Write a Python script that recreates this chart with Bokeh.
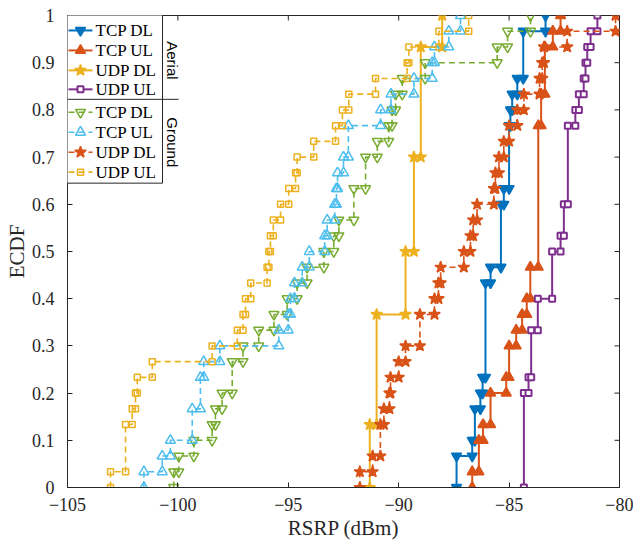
import math
from bokeh.plotting import figure
from bokeh.models import Range1d, FixedTicker
from bokeh.embed import file_html
from bokeh.resources import INLINE
from bokeh.core.properties import value

# ---------------- data (ECDF, n = 30 samples per series) ----------------
N_SAMPLES = 30
x_ticks = [-105, -100, -95, -90, -85, -80]
y_ticks = [0, 0.1, 0.2, 0.3, 0.4, 0.5, 0.6, 0.7, 0.8, 0.9, 1]
y_tick_labels = {0: "0", 1: "1"}

# Aerial
aer_tcp_dl_x = [-87.38, -86.67, -86.55, -86.3, -86.2, -86.07, -85.84, -85.37, -85.24, -85.0, -84.94, -84.86, -84.63, -84.36, -83.35]
aer_tcp_dl_n = [2, 3, 5, 6, 7, 13, 14, 18, 19, 23, 24, 25, 26, 29, 30]
aer_tcp_ul_x = [-86.67, -86.37, -86.18, -85.84, -85.13, -85.0, -84.68, -84.41, -84.2, -84.04, -83.68, -83.55, -83.38, -83.02, -82.67]
aer_tcp_ul_n = [1, 3, 4, 6, 7, 9, 10, 11, 12, 14, 23, 25, 28, 29, 30]
aer_udp_dl_x = [-91.31, -91.0, -89.69, -89.31, -89.0, -88.03]
aer_udp_dl_n = [4, 11, 15, 21, 28, 30]
aer_udp_ul_x = [-84.33, -84.12, -84.0, -83.7, -83.05, -82.67, -82.52, -82.34, -82.0, -81.84, -81.62, -81.54, -81.46, -81.31, -81.0]
aer_udp_ul_n = [6, 7, 10, 12, 15, 16, 18, 23, 24, 25, 26, 27, 28, 29, 30]

# Ground
gnd_tcp_dl_x = [-100.19, -99.96, -99.28, -98.45, -98.3, -98.0, -97.54, -97.05, -96.34, -95.65, -95.05, -94.6, -94.15, -93.39, -92.94, -92.71, -92.03, -91.5, -90.97, -90.45, -90.3, -90.14, -89.84, -88.8, -85.54, -85.07, -84.03]
gnd_tcp_dl_n = [1, 2, 3, 4, 5, 6, 8, 9, 10, 11, 12, 13, 14, 15, 16, 17, 19, 21, 22, 23, 24, 25, 26, 27, 28, 29, 30]
gnd_tcp_ul_x = [-101.54, -100.71, -100.34, -99.35, -98.98, -98.83, -98.1, -95.43, -95.0, -94.9, -94.72, -94.37, -94.05, -93.35, -93.24, -92.9, -92.82, -92.77, -92.5, -92.28, -90.82, -90.35, -89.31, -88.48, -88.38, -87.73, -87.2]
gnd_tcp_ul_n = [1, 2, 3, 5, 7, 8, 9, 10, 11, 12, 13, 14, 15, 16, 17, 18, 19, 20, 21, 23, 24, 25, 26, 27, 28, 29, 30]
gnd_udp_dl_x = [-91.76, -91.18, -90.83, -90.67, -90.42, -90.37, -90.0, -89.69, -89.04, -88.38, -88.2, -88.1, -87.05, -86.75, -86.63, -86.45, -85.69, -85.62, -85.46, -85.24, -85.0, -84.63, -84.33, -83.62, -83.5, -83.42, -82.37, -80.18]
gnd_udp_dl_n = [1, 2, 4, 5, 6, 7, 8, 9, 11, 12, 13, 14, 15, 16, 17, 18, 19, 20, 21, 22, 23, 24, 25, 26, 27, 28, 29, 30]
gnd_udp_ul_x = [-103.05, -102.37, -102.07, -101.92, -101.84, -101.16, -98.45, -97.31, -97.05, -96.94, -96.7, -95.96, -95.88, -95.81, -95.68, -95.35, -94.98, -94.67, -94.6, -93.85, -92.86, -92.55, -92.26, -91.05, -89.62, -89.54, -88.18, -86.83]
gnd_udp_ul_n = [1, 4, 5, 6, 7, 8, 9, 10, 11, 12, 13, 14, 15, 16, 17, 18, 19, 20, 21, 22, 23, 24, 25, 26, 27, 28, 29, 30]

labels = ["TCP DL", "TCP UL", "UDP DL", "UDP UL"]
groups = ["Aerial", "Ground"]

BLUE, ORANGE, YELLOW, PURPLE, GREEN, CYAN = "#0072BD", "#D95319", "#EDB120", "#7E2F8E", "#77AC30", "#4DBEEE"
AX = "#262626"
SERIF = "Liberation Serif"

series = [
    dict(x=aer_tcp_dl_x, n=aer_tcp_dl_n, color=BLUE, marker="inverted_triangle", size=10, fill=True, dash="solid", lw=2.0),
    dict(x=aer_tcp_ul_x, n=aer_tcp_ul_n, color=ORANGE, marker="triangle", size=10, fill=True, dash="solid", lw=2.0),
    dict(x=aer_udp_dl_x, n=aer_udp_dl_n, color=YELLOW, marker="star", size=12, fill=True, dash="solid", lw=2.0),
    dict(x=aer_udp_ul_x, n=aer_udp_ul_n, color=PURPLE, marker="square", size=6, fill="white", dash="solid", lw=2.0),
    dict(x=gnd_tcp_dl_x, n=gnd_tcp_dl_n, color=GREEN, marker="inverted_triangle", size=10, fill=False, dash="6 4", lw=1.6),
    dict(x=gnd_tcp_ul_x, n=gnd_tcp_ul_n, color=CYAN, marker="triangle", size=10, fill=False, dash="6 4", lw=1.6),
    dict(x=gnd_udp_dl_x, n=gnd_udp_dl_n, color=ORANGE, marker="star", size=12, fill=True, dash="6 4", lw=1.6),
    dict(x=gnd_udp_ul_x, n=gnd_udp_ul_n, color=YELLOW, marker="square", size=6, fill=False, dash="6 4", lw=1.6),
]

# ---------------- figure ----------------
W, H = 633, 542
FL, FT, FW, FH = 67, 15, 552, 473   # frame left/top/width/height in canvas px
X0, X1, Y0, Y1 = -105, -80, 0, 1

p = figure(width=W, height=H, x_range=Range1d(X0, X1), y_range=Range1d(Y0, Y1),
           output_backend="svg", toolbar_location=None,
           min_border_left=FL, min_border_right=W - FL - FW,
           min_border_top=FT, min_border_bottom=H - FT - FH)
p.grid.visible = False
p.outline_line_color = AX
p.outline_line_width = 1
p.background_fill_color = "white"
p.border_fill_color = "white"

for ax in (p.xaxis[0], p.yaxis[0]):
    ax.major_tick_in = 5
    ax.major_tick_out = 0
    ax.minor_tick_line_color = None
    ax.axis_line_color = AX
    ax.major_tick_line_color = AX
    ax.major_label_text_font = SERIF
    ax.major_label_text_color = AX
    ax.major_label_text_font_size = "18px"
    ax.axis_label_text_font = SERIF
    ax.axis_label_text_font_style = "normal"
    ax.axis_label_text_font_size = "21px"
    ax.axis_label_text_color = AX

p.xaxis.ticker = FixedTicker(ticks=x_ticks)
p.yaxis.ticker = FixedTicker(ticks=y_ticks)
p.yaxis.major_label_overrides = y_tick_labels
p.xaxis.axis_label = "RSRP (dBm)"
p.yaxis.axis_label = "ECDF"
p.xaxis.major_label_standoff = 10
p.xaxis.axis_label_standoff = 2
p.yaxis.major_label_standoff = 13
p.yaxis.axis_label_standoff = 0

# inward ticks on the top and right edges of the box (from the same tick lists)
TICK = 5
dy_tick = TICK / FH * (Y1 - Y0)
dx_tick = TICK / FW * (X1 - X0)
p.segment(x0=x_ticks, y0=[Y1] * len(x_ticks), x1=x_ticks, y1=[Y1 - dy_tick] * len(x_ticks),
          line_color=AX, line_width=1)
p.segment(x0=[X1] * len(y_ticks), y0=y_ticks, x1=[X1 - dx_tick] * len(y_ticks), y1=y_ticks,
          line_color=AX, line_width=1)


def stairs(xs, ns):
    vx, vy = [], []
    prev = 0
    for x, n in zip(xs, ns):
        vx += [x, x]
        vy += [prev / N_SAMPLES, n / N_SAMPLES]
        prev = n
    return vx, vy


def marker_kw(s):
    kw = dict(marker=s["marker"], size=s["size"], line_color=s["color"], line_width=1.5)
    if s["fill"] is True:
        kw.update(fill_color=s["color"])
    elif s["fill"] == "white":
        kw.update(fill_color="white", line_width=2)
    else:
        kw.update(fill_color=None)
    return kw


for s in series:
    vx, vy = stairs(s["x"], s["n"])
    p.line(vx, vy, line_color=s["color"], line_width=s["lw"], line_dash=s["dash"])
    p.scatter(vx, vy, **marker_kw(s))

# ---------------- legend (drawn manually; positions in canvas px) ----------------
def fx(px):
    return X0 + (px - FL) / FW * (X1 - X0)


def fy(py):
    return Y1 - (py - FT) / FH * (Y1 - Y0)


LEG_R, LEG_COL_R, LEG_MID, LEG_B = 162, 178, 99, 183
p.quad(left=[X0], right=[fx(LEG_R)], top=[Y1], bottom=[fy(LEG_B)],
       fill_color="white", line_color=None, level="overlay")
p.multi_line(xs=[[fx(LEG_R), fx(LEG_R)], [X0, fx(LEG_COL_R)], [X0, fx(LEG_R)]],
             ys=[[Y1, fy(LEG_B)], [fy(LEG_MID), fy(LEG_MID)], [fy(LEG_B), fy(LEG_B)]],
             line_color=AX, line_width=1, level="overlay")

rows = [30, 50, 70, 89, 112, 132, 152, 172]
for i, s in enumerate(series):
    ry = fy(rows[i])
    p.line([fx(68), fx(92)], [ry, ry], line_color=s["color"], line_width=s["lw"],
           line_dash=s["dash"], level="overlay")
    p.scatter([fx(80)], [ry], level="overlay", **marker_kw(s))
    p.text([fx(95)], [ry], text=[labels[i % 4]], text_font=value(SERIF),
           text_font_size="17px", text_baseline="middle", text_align="left",
           text_color="black", level="overlay")

for name, cy in zip(groups, [60, 142]):
    p.text([fx(172)], [fy(cy)], text=[name], angle=-math.pi / 2,
           text_font=value("Liberation Sans"), text_font_size="15px",
           text_baseline="middle", text_align="center", text_color="black",
           level="overlay")

open("out.html", "w").write(file_html(p, INLINE))
